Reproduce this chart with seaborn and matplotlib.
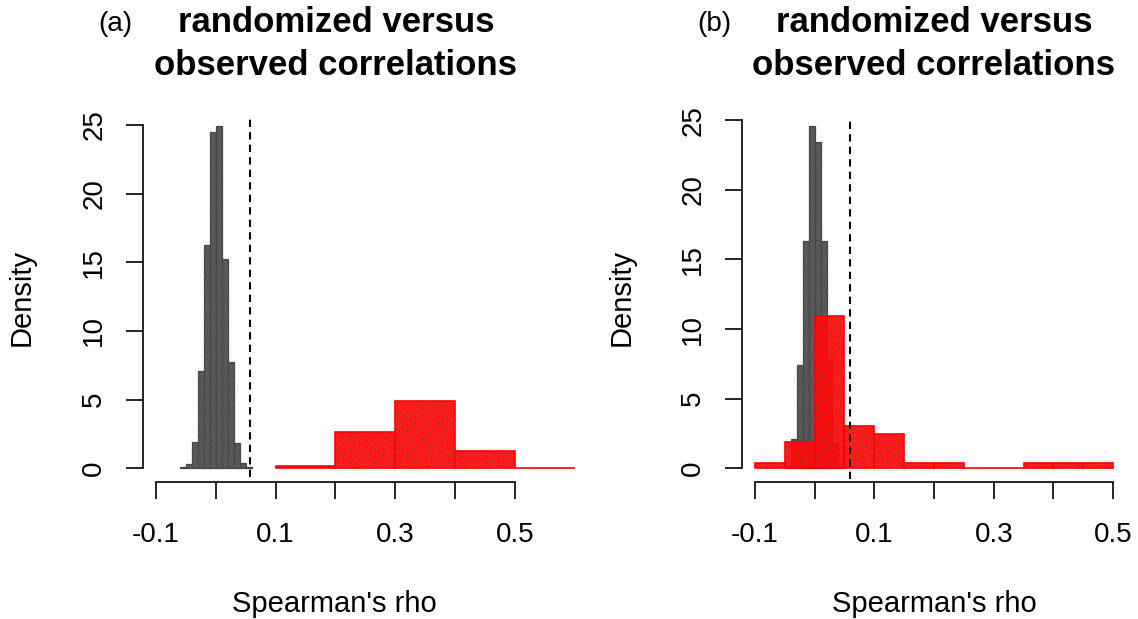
import numpy as np
import pandas as pd
import matplotlib
matplotlib.use("Agg")
import matplotlib.pyplot as plt
import seaborn as sns

# ---------------- data (densities) ----------------
a_rand_edges = [-0.06, -0.05, -0.04, -0.03, -0.02, -0.01, 0.0, 0.01, 0.02, 0.03, 0.04, 0.05, 0.06]
a_rand_density = [0.12, 0.31, 1.94, 7.1, 16.26, 24.5, 24.95, 15.24, 7.72, 1.82, 0.41, 0.12]
a_obs_edges = [0.1, 0.2, 0.3, 0.4, 0.5, 0.6]
a_obs_density = [0.17, 2.62, 4.9, 1.28, 0.05]
a_threshold = 0.057

b_rand_edges = [-0.05, -0.04, -0.03, -0.02, -0.01, 0.0, 0.01, 0.02, 0.03, 0.04, 0.05]
b_rand_density = [0.15, 2.08, 7.42, 16.3, 24.6, 23.45, 16.3, 7.78, 1.8, 0.15]
b_obs_edges = [-0.1, -0.05, 0.0, 0.05, 0.1, 0.15, 0.2, 0.25, 0.3, 0.35, 0.4, 0.45, 0.5]
b_obs_density = [0.36, 1.87, 10.95, 3.06, 2.46, 0.36, 0.36, 0.02, 0.02, 0.36, 0.36, 0.36]
b_threshold = 0.060

x_ticks = [-0.1, 0.0, 0.1, 0.2, 0.3, 0.4, 0.5]
x_ticklabels = ["-0.1", "", "0.1", "", "0.3", "", "0.5"]
y_ticks = [0, 5, 10, 15, 20, 25]
panel_letters = ["(a)", "(b)"]
title_lines = ["randomized versus", "observed correlations"]
x_label = "Spearman's rho"
y_label = "Density"

# ---------------- style ----------------
sns.set_theme(style="ticks")
plt.rcParams["font.family"] = ["Liberation Sans", "DejaVu Sans"]
plt.rcParams["hatch.linewidth"] = 1.0
plt.rcParams["axes.linewidth"] = 1.2

W, H = 1138, 619
fig = plt.figure(figsize=(W / 100, H / 100), dpi=100)
fig.patch.set_facecolor("white")


def px(x, y):
    return x / W, 1 - y / H


GRAY_FACE = (0.64, 0.64, 0.64, 0.9)
GRAY_EDGE = "#474747"
RED_FACE = (1.0, 0.38, 0.38, 0.55)
RED_EDGE = "#ff0000"


def hist(ax, edges, dens, face, edge, lw):
    e = np.asarray(edges, dtype=float)
    df = pd.DataFrame({"x": (e[:-1] + e[1:]) / 2, "w": list(dens)})
    n0 = len(ax.patches)
    sns.histplot(data=df, x="x", weights="w", bins=list(e), stat="count", ax=ax,
                 element="bars", fill=True, legend=False)
    for p in ax.patches[n0:]:
        p.set_alpha(None)
        p.set_facecolor(face)
        p.set_edgecolor(edge)
        p.set_linewidth(lw)
        p.set_hatch("/" * 14)
        p.set_clip_on(False)


panels = [
    dict(rect=(142.7, 482.0, 448.7, 370.7), xlim=(-0.122, 0.628),
         rand=(a_rand_edges, a_rand_density), obs=(a_obs_edges, a_obs_density),
         thr=a_threshold, thr_span=(0.013, 0.982),
         letter_x=98, title_x=336, ylab_x=36, xlab_x=334),
    dict(rect=(741.7, 482.3, 385.8, 376.1), xlim=(-0.122, 0.524),
         rand=(b_rand_edges, b_rand_density), obs=(b_obs_edges, b_obs_density),
         thr=b_threshold, thr_span=(0.01, 0.963),
         letter_x=697, title_x=934, ylab_x=636, xlab_x=934),
]

for i, P in enumerate(panels):
    lx, by, w, h = P["rect"]
    ax = fig.add_axes([lx / W, (H - by) / H, w / W, h / H])
    ax.set_facecolor("white")
    hist(ax, *P["rand"], GRAY_FACE, GRAY_EDGE, 0.9)
    hist(ax, *P["obs"], RED_FACE, RED_EDGE, 1.2)
    ax.axvline(P["thr"], ymin=P["thr_span"][0], ymax=P["thr_span"][1],
               color="black", lw=1.5, ls=(0, (3.5, 2.5)), zorder=5)

    ax.set_xlim(*P["xlim"])
    ax.set_ylim(-1, 26)
    for s in ("top", "right"):
        ax.spines[s].set_visible(False)
    ax.spines["left"].set_bounds(0, 25)
    ax.spines["bottom"].set_bounds(-0.1, 0.5)
    ax.spines["left"].set_color("black")
    ax.spines["bottom"].set_color("black")

    ax.set_xticks(x_ticks)
    ax.set_xticklabels(x_ticklabels)
    ax.set_yticks(y_ticks)
    ax.set_yticklabels([str(t) for t in y_ticks])
    ax.tick_params(axis="both", direction="out", length=12.5, width=1.2,
                   color="black", labelsize=20, labelcolor="black")
    ax.tick_params(axis="x", pad=16)
    ax.tick_params(axis="y", pad=13)
    for t in ax.get_yticklabels():
        t.set_rotation(90)
        t.set_va("center")

    ax.set_xlabel(x_label, fontsize=21, color="black")
    ax.set_ylabel(y_label, fontsize=21, color="black")
    ax.xaxis.set_label_coords(*px(P["xlab_x"], 590), transform=fig.transFigure)
    ax.yaxis.set_label_coords(*px(P["ylab_x"], 297), transform=fig.transFigure)

    fig.text(*px(P["letter_x"], 31), panel_letters[i], fontsize=20,
             ha="left", va="baseline", color="black")
    fig.text(*px(P["title_x"], 32), title_lines[0], fontsize=25, fontweight="bold",
             ha="center", va="baseline", color="black")
    fig.text(*px(P["title_x"], 75), title_lines[1], fontsize=25, fontweight="bold",
             ha="center", va="baseline", color="black")

fig.savefig("out.png", dpi=100, facecolor="white")
